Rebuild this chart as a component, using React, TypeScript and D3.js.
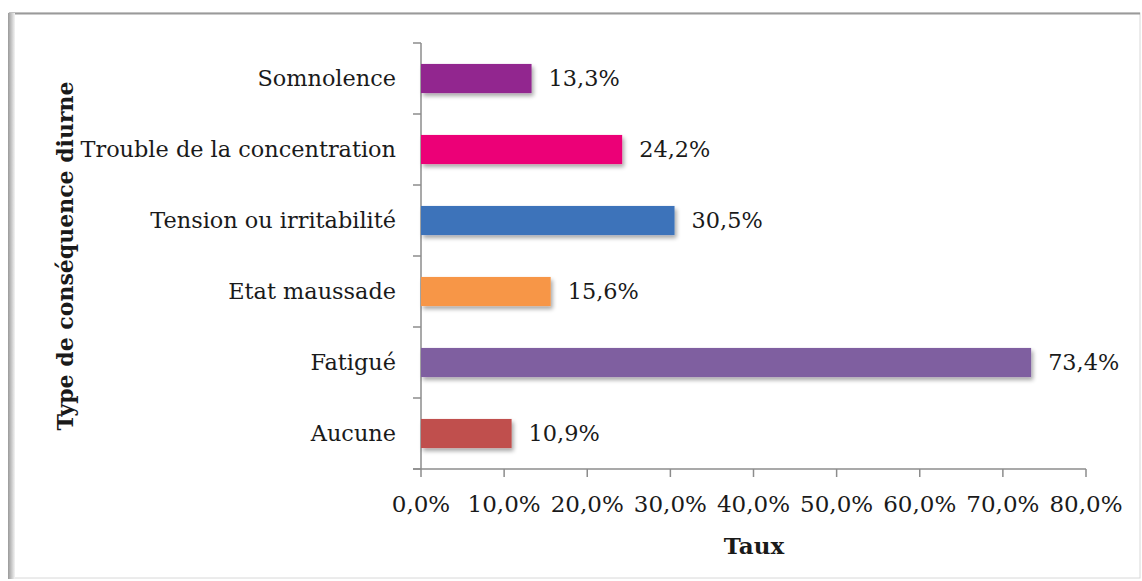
import React from "react";
import * as d3 from "d3";

const categories = ["Somnolence", "Trouble de la concentration", "Tension ou irritabilité", "Etat maussade", "Fatigué", "Aucune"];
const values = [13.3, 24.2, 30.5, 15.6, 73.4, 10.9];
const colors = ["#92278F", "#EC0677", "#3D73BA", "#F79646", "#7F5FA0", "#C0504D"];
const xTicks = [0, 10, 20, 30, 40, 50, 60, 70, 80];

const W = 1142, H = 581;
const FONT = "'DejaVu Serif', serif";

export default function App() {
  const x = d3.scaleLinear().domain([0, 80]).range([421, 1086]);
  const y = d3.scaleBand().domain(categories).range([43, 469]).paddingInner(0.59).paddingOuter(0.295);
  const yEdges = d3.range(categories.length + 1).map(i => 43 + (426 / categories.length) * i);
  const fmt = (v: number) => v.toFixed(1).replace(".", ",") + "%";
  return (
    <svg width={W} height={H} style={{ position: "absolute", left: 0, top: 0, background: "#fff" }} fontFamily={FONT}>
      <defs>
        <filter id="sh" x="-10%" y="-30%" width="130%" height="180%">
          <feGaussianBlur in="SourceAlpha" stdDeviation="2" />
          <feOffset dx="2" dy="3" result="b" />
          <feComponentTransfer><feFuncA type="linear" slope="0.35" /></feComponentTransfer>
          <feMerge><feMergeNode /><feMergeNode in="SourceGraphic" /></feMerge>
        </filter>
        <linearGradient id="lg" x1="0" x2="1" y1="0" y2="0">
          <stop offset="0" stopColor="#9a9a9a" />
          <stop offset="1" stopColor="#f4f4f4" />
        </linearGradient>
      </defs>
      <rect x={9} y={13} width={1131} height={565} fill="#fff" stroke="#d8d8d8" strokeWidth={1} />
      <line x1={9} x2={1140} y1={13.5} y2={13.5} stroke="#9a9a9a" strokeWidth={2} />
      <rect x={8} y={13} width={7} height={566} fill="url(#lg)" />
      {/* x axis */}
      <line x1={413} x2={x(80)} y1={469} y2={469} stroke="#8c8c8c" strokeWidth={1.5} />
      {xTicks.map(t => (
        <g key={t}>
          <line x1={x(t)} x2={x(t)} y1={469} y2={477} stroke="#8c8c8c" strokeWidth={1.5} />
          <text x={x(t)} y={512} textAnchor="middle" fontSize={23} fill="#1a1a1a">{fmt(t)}</text>
        </g>
      ))}
      {/* y axis */}
      <line x1={421} x2={421} y1={43} y2={469} stroke="#8c8c8c" strokeWidth={1.5} />
      {yEdges.map((e, i) => (
        <line key={i} x1={413} x2={421} y1={e} y2={e} stroke="#8c8c8c" strokeWidth={1.5} />
      ))}
      {categories.map((c, i) => {
        const yc = (y(c) as number) + y.bandwidth() / 2;
        return (
          <g key={c}>
            <rect x={x(0)} y={y(c)} width={x(values[i]) - x(0)} height={y.bandwidth()} fill={colors[i]} filter="url(#sh)" />
            <text x={396} y={yc} dy="0.35em" textAnchor="end" fontSize={22.4} fill="#1a1a1a">{c}</text>
            <text x={x(values[i]) + 17} y={yc} dy="0.35em" fontSize={22.4} fill="#1a1a1a">{fmt(values[i])}</text>
          </g>
        );
      })}
      <text x={754} y={554} textAnchor="middle" fontSize={23} fontWeight="bold" fill="#1a1a1a">Taux</text>
      <text transform={`translate(73,256) rotate(-90)`} textAnchor="middle" fontSize={22} fontWeight="bold" fill="#1a1a1a">Type de conséquence diurne</text>
    </svg>
  );
}
